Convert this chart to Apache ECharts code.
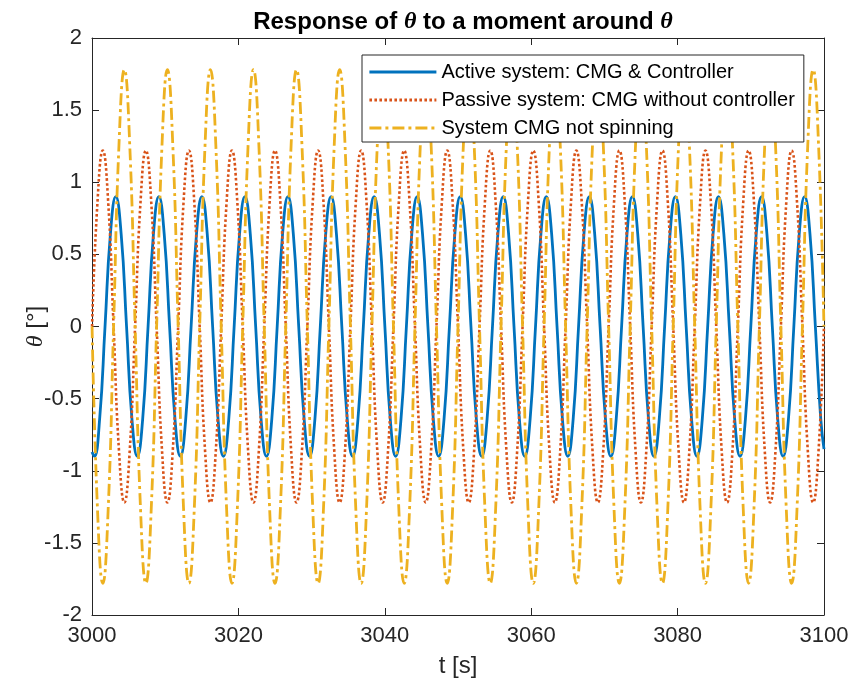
<!DOCTYPE html>
<html><head><meta charset="utf-8">
<script src="https://cdn.jsdelivr.net/npm/echarts@6/dist/echarts.min.js"></script>
<style>html,body{margin:0;padding:0;background:#fff}#c{width:852px;height:686px}</style>
</head><body><div id="c"></div>
<script>
// ---- data ----
const xTicks = [3000, 3020, 3040, 3060, 3080, 3100];
const yTicks = [-2, -1.5, -1, -0.5, 0, 0.5, 1, 1.5, 2];
const seriesNames = ['Active system: CMG & Controller', 'Passive system: CMG without controller', 'System CMG not spinning'];

// Active system (t [s]); one row per oscillation, starting at each trough
const activeT = [3000,
 3000.31, 3001.045, 3001.78, 3002.515, 3003.25, 3003.985, 3004.72, 3005.455,
 3006.19, 3006.925, 3007.66, 3008.395, 3009.13, 3009.865, 3010.60, 3011.335,
 3012.07, 3012.805, 3013.54, 3014.275, 3015.01, 3015.745, 3016.48, 3017.215,
 3017.95, 3018.685, 3019.42, 3020.155, 3020.89, 3021.625, 3022.36, 3023.095,
 3023.83, 3024.565, 3025.30, 3026.035, 3026.77, 3027.505, 3028.24, 3028.98,
 3029.72, 3030.455, 3031.19, 3031.925, 3032.66, 3033.395, 3034.13, 3034.865,
 3035.60, 3036.335, 3037.07, 3037.805, 3038.54, 3039.275, 3040.01, 3040.745,
 3041.48, 3042.215, 3042.95, 3043.685, 3044.42, 3045.155, 3045.89, 3046.625,
 3047.36, 3048.095, 3048.83, 3049.565, 3050.30, 3051.035, 3051.77, 3052.505,
 3053.24, 3053.975, 3054.71, 3055.445, 3056.18, 3056.915, 3057.65, 3058.385,
 3059.12, 3059.855, 3060.59, 3061.325, 3062.06, 3062.795, 3063.53, 3064.265,
 3065.00, 3065.735, 3066.47, 3067.205, 3067.94, 3068.675, 3069.41, 3070.145,
 3070.88, 3071.615, 3072.35, 3073.085, 3073.82, 3074.555, 3075.29, 3076.025,
 3076.76, 3077.495, 3078.23, 3078.965, 3079.70, 3080.435, 3081.17, 3081.905,
 3082.64, 3083.375, 3084.11, 3084.845, 3085.58, 3086.32, 3087.06, 3087.795,
 3088.53, 3089.265, 3090.00, 3090.735, 3091.47, 3092.205, 3092.94, 3093.675,
 3094.41, 3095.145, 3095.88, 3096.615, 3097.35, 3098.085, 3098.82, 3099.555,
 3100];
const activeV = [-0.87,
 -0.9, -0.64, 0, 0.64, 0.9, 0.64, 0, -0.64,
 -0.9, -0.64, 0, 0.64, 0.9, 0.64, 0, -0.64,
 -0.9, -0.64, 0, 0.64, 0.9, 0.64, 0, -0.64,
 -0.9, -0.64, 0, 0.64, 0.9, 0.64, 0, -0.64,
 -0.9, -0.64, 0, 0.64, 0.9, 0.64, 0, -0.64,
 -0.9, -0.64, 0, 0.64, 0.9, 0.64, 0, -0.64,
 -0.9, -0.64, 0, 0.64, 0.9, 0.64, 0, -0.64,
 -0.9, -0.64, 0, 0.64, 0.9, 0.64, 0, -0.64,
 -0.9, -0.64, 0, 0.64, 0.9, 0.64, 0, -0.64,
 -0.9, -0.64, 0, 0.64, 0.9, 0.64, 0, -0.64,
 -0.9, -0.64, 0, 0.64, 0.9, 0.64, 0, -0.64,
 -0.9, -0.64, 0, 0.64, 0.9, 0.64, 0, -0.64,
 -0.9, -0.64, 0, 0.64, 0.9, 0.64, 0, -0.64,
 -0.9, -0.64, 0, 0.64, 0.9, 0.64, 0, -0.64,
 -0.9, -0.64, 0, 0.64, 0.9, 0.64, 0, -0.64,
 -0.9, -0.64, 0, 0.64, 0.9, 0.64, 0, -0.64,
 -0.9, -0.64, 0, 0.64, 0.9, 0.64, 0, -0.64,
 -0.85];

// Passive and not-spinning systems share the same times (t [s]); one row per oscillation
const passiveT = [
 3000.01, 3000.745, 3001.48, 3002.215, 3002.95, 3003.685, 3004.42, 3005.155,
 3005.89, 3006.625, 3007.36, 3008.095, 3008.83, 3009.565, 3010.30, 3011.035,
 3011.77, 3012.505, 3013.24, 3013.975, 3014.71, 3015.445, 3016.18, 3016.915,
 3017.65, 3018.385, 3019.12, 3019.855, 3020.59, 3021.325, 3022.06, 3022.795,
 3023.53, 3024.265, 3025.00, 3025.735, 3026.47, 3027.205, 3027.94, 3028.68,
 3029.42, 3030.155, 3030.89, 3031.625, 3032.36, 3033.095, 3033.83, 3034.565,
 3035.30, 3036.035, 3036.77, 3037.505, 3038.24, 3038.975, 3039.71, 3040.445,
 3041.18, 3041.915, 3042.65, 3043.385, 3044.12, 3044.855, 3045.59, 3046.325,
 3047.06, 3047.795, 3048.53, 3049.265, 3050.00, 3050.735, 3051.47, 3052.205,
 3052.94, 3053.675, 3054.41, 3055.145, 3055.88, 3056.615, 3057.35, 3058.085,
 3058.82, 3059.555, 3060.29, 3061.025, 3061.76, 3062.495, 3063.23, 3063.965,
 3064.70, 3065.435, 3066.17, 3066.905, 3067.64, 3068.375, 3069.11, 3069.845,
 3070.58, 3071.315, 3072.05, 3072.785, 3073.52, 3074.255, 3074.99, 3075.725,
 3076.46, 3077.195, 3077.93, 3078.665, 3079.40, 3080.135, 3080.87, 3081.605,
 3082.34, 3083.075, 3083.81, 3084.545, 3085.28, 3086.02, 3086.76, 3087.495,
 3088.23, 3088.965, 3089.70, 3090.435, 3091.17, 3091.905, 3092.64, 3093.375,
 3094.11, 3094.845, 3095.58, 3096.315, 3097.05, 3097.785, 3098.52, 3099.255,
 3099.99];
const passiveV = [
 0, 0.86, 1.22, 0.86, 0, -0.86, -1.22, -0.86,
 0, 0.86, 1.22, 0.86, 0, -0.86, -1.22, -0.86,
 0, 0.86, 1.22, 0.86, 0, -0.86, -1.22, -0.86,
 0, 0.86, 1.22, 0.86, 0, -0.86, -1.22, -0.86,
 0, 0.86, 1.22, 0.86, 0, -0.86, -1.22, -0.86,
 0, 0.86, 1.22, 0.86, 0, -0.86, -1.22, -0.86,
 0, 0.86, 1.22, 0.86, 0, -0.86, -1.22, -0.86,
 0, 0.86, 1.22, 0.86, 0, -0.86, -1.22, -0.86,
 0, 0.86, 1.22, 0.86, 0, -0.86, -1.22, -0.86,
 0, 0.86, 1.22, 0.86, 0, -0.86, -1.22, -0.86,
 0, 0.86, 1.22, 0.86, 0, -0.86, -1.22, -0.86,
 0, 0.86, 1.22, 0.86, 0, -0.86, -1.22, -0.86,
 0, 0.86, 1.22, 0.86, 0, -0.86, -1.22, -0.86,
 0, 0.86, 1.22, 0.86, 0, -0.86, -1.22, -0.86,
 0, 0.86, 1.22, 0.86, 0, -0.86, -1.22, -0.86,
 0, 0.86, 1.22, 0.86, 0, -0.86, -1.22, -0.86,
 0, 0.86, 1.22, 0.86, 0, -0.86, -1.22, -0.86,
 0];
const spinT = passiveT;
const spinV = [
 0, -1.26, -1.78, -1.26, 0, 1.26, 1.78, 1.26,
 0, -1.26, -1.78, -1.26, 0, 1.26, 1.78, 1.26,
 0, -1.26, -1.78, -1.26, 0, 1.26, 1.78, 1.26,
 0, -1.26, -1.78, -1.26, 0, 1.26, 1.78, 1.26,
 0, -1.26, -1.78, -1.26, 0, 1.26, 1.78, 1.26,
 0, -1.26, -1.78, -1.26, 0, 1.26, 1.78, 1.26,
 0, -1.26, -1.78, -1.26, 0, 1.26, 1.78, 1.26,
 0, -1.26, -1.78, -1.26, 0, 1.26, 1.78, 1.26,
 0, -1.26, -1.78, -1.26, 0, 1.26, 1.78, 1.26,
 0, -1.26, -1.78, -1.26, 0, 1.26, 1.78, 1.26,
 0, -1.26, -1.78, -1.26, 0, 1.26, 1.78, 1.26,
 0, -1.26, -1.78, -1.26, 0, 1.26, 1.78, 1.26,
 0, -1.26, -1.78, -1.26, 0, 1.26, 1.78, 1.26,
 0, -1.26, -1.78, -1.26, 0, 1.26, 1.78, 1.26,
 0, -1.26, -1.78, -1.26, 0, 1.26, 1.78, 1.26,
 0, -1.26, -1.78, -1.26, 0, 1.26, 1.78, 1.26,
 0, -1.26, -1.78, -1.26, 0, 1.26, 1.78, 1.26,
 0];

// ---- chart ----
const zip = (t, v) => t.map((x, i) => [x, v[i]]);
const FONT = 'Liberation Sans';
const AX = '#262626';
const chart = echarts.init(document.getElementById('c'), null, {renderer: 'canvas'});

const baseX = {
  type: 'value', min: xTicks[0], max: xTicks[xTicks.length - 1], interval: xTicks[1] - xTicks[0],
  axisLine: {show: true, onZero: false, lineStyle: {color: AX, width: 1}},
  axisTick: {show: true, inside: true, length: 7, lineStyle: {color: AX}},
  splitLine: {show: false}
};
const baseY = {
  type: 'value', min: yTicks[0], max: yTicks[yTicks.length - 1], interval: yTicks[1] - yTicks[0],
  axisLine: {show: true, onZero: false, lineStyle: {color: AX, width: 1}},
  axisTick: {show: true, inside: true, length: 7, lineStyle: {color: AX}},
  splitLine: {show: false}
};

const option = {
  backgroundColor: '#fff',
  animation: false,
  title: {
    text: '{b|Response of }{i|θ}{b| to a moment around }{i|θ}',
    left: 458, textAlign: 'center', top: 5,
    textStyle: {
      rich: {
        b: {fontFamily: FONT, fontWeight: 'bold', fontSize: 24, color: '#000'},
        i: {fontFamily: 'Liberation Serif', fontStyle: 'italic', fontSize: 24, color: '#000'}
      }
    }
  },
  grid: {left: 92, right: 28, top: 38, bottom: 71, containLabel: false},
  legend: {
    orient: 'vertical', left: 362, top: 55,
    backgroundColor: '#fff', borderColor: AX, borderWidth: 1, borderRadius: 0,
    padding: [7, 9, 4, 6],
    itemWidth: 67, itemHeight: 20, itemGap: 8,
    itemStyle: {opacity: 0},
    lineStyle: {width: 2.8},
    textStyle: {fontFamily: FONT, fontSize: 20, color: '#000', lineHeight: 20},
    data: seriesNames
  },
  xAxis: [
    Object.assign({}, baseX, {
      position: 'bottom',
      name: 't [s]', nameLocation: 'middle', nameGap: 39, nameMoveOverlap: false,
      nameTextStyle: {fontFamily: FONT, fontSize: 24, color: AX},
      axisLabel: {fontFamily: FONT, fontSize: 22, color: AX, margin: 10, formatter: v => String(v)}
    }),
    Object.assign({}, baseX, {position: 'top', axisLabel: {show: false}})
  ],
  yAxis: [
    Object.assign({}, baseY, {
      position: 'left',
      name: '{i|θ} [°]', nameLocation: 'middle', nameGap: 44, nameRotate: 90, nameMoveOverlap: false,
      nameTextStyle: {fontFamily: FONT, fontSize: 24, color: AX,
        rich: {i: {fontFamily: 'Liberation Serif', fontStyle: 'italic', fontSize: 24, color: AX}}},
      axisLabel: {fontFamily: FONT, fontSize: 22, color: AX, margin: 10, formatter: v => String(v)}
    }),
    Object.assign({}, baseY, {position: 'right', axisLabel: {show: false}})
  ],
  series: [
    {
      name: seriesNames[0], type: 'line', xAxisIndex: 0, yAxisIndex: 0,
      data: zip(activeT, activeV), smooth: 0.5, showSymbol: false, symbol: 'none',
      lineStyle: {color: '#0072BD', width: 2.8}, itemStyle: {color: '#0072BD'}
    },
    {
      name: seriesNames[1], type: 'line', xAxisIndex: 0, yAxisIndex: 0,
      data: zip(passiveT, passiveV), smooth: 0.5, showSymbol: false, symbol: 'none',
      lineStyle: {color: '#D95319', width: 2.6, type: [2.6, 2.4], cap: 'butt'}, itemStyle: {color: '#D95319'}
    },
    {
      name: seriesNames[2], type: 'line', xAxisIndex: 0, yAxisIndex: 0,
      data: zip(spinT, spinV), smooth: 0.5, showSymbol: false, symbol: 'none',
      lineStyle: {color: '#EDB120', width: 2.8, type: [12, 4, 3, 4], cap: 'butt'}, itemStyle: {color: '#EDB120'}
    }
  ]
};
chart.setOption(option);
</script>
</body></html>
